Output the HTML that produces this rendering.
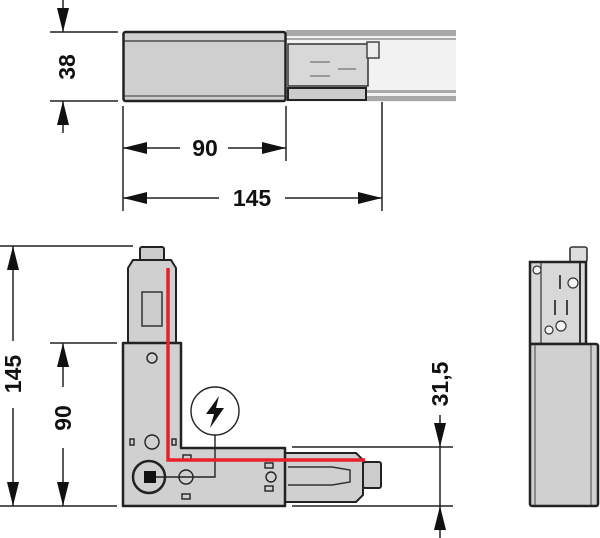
<!DOCTYPE html>
<html><head><style>html,body{margin:0;padding:0;background:#fff;width:600px;height:538px;overflow:hidden}</style></head>
<body>
<svg width="600" height="538" viewBox="0 0 600 538" xmlns="http://www.w3.org/2000/svg" font-family="Liberation Sans, sans-serif" font-weight="bold" font-size="23">
<defs>
<marker id="a" viewBox="0 0 24 12" refX="24" refY="6" markerWidth="24" markerHeight="12" markerUnits="userSpaceOnUse" orient="auto"><path d="M0,0 L24,6 L0,12 z" fill="#111"/></marker>
</defs>
<g stroke="#222" stroke-width="1.5" fill="none">
<line x1="50" y1="32" x2="118" y2="32"/><line x1="50" y1="101" x2="118" y2="101"/>
<line x1="123" y1="106" x2="123" y2="211"/><line x1="286" y1="106" x2="286" y2="161"/><line x1="382" y1="45" x2="382" y2="211"/>
<line x1="63" y1="0" x2="63" y2="32" marker-end="url(#a)"/><line x1="63" y1="133" x2="63" y2="101" marker-end="url(#a)"/>
<line x1="180" y1="148" x2="123" y2="148" marker-end="url(#a)"/><line x1="228" y1="148" x2="286" y2="148" marker-end="url(#a)"/>
<line x1="219" y1="198" x2="123" y2="198" marker-end="url(#a)"/><line x1="285" y1="198" x2="382" y2="198" marker-end="url(#a)"/>
<line x1="0" y1="246" x2="133" y2="246"/><line x1="0" y1="506" x2="117" y2="506"/><line x1="50" y1="343" x2="117" y2="343"/>
<line x1="13" y1="341" x2="13" y2="246" marker-end="url(#a)"/><line x1="13" y1="408" x2="13" y2="506" marker-end="url(#a)"/>
<line x1="63" y1="387" x2="63" y2="343" marker-end="url(#a)"/><line x1="63" y1="448" x2="63" y2="506" marker-end="url(#a)"/>
<line x1="292" y1="447" x2="453" y2="447"/><line x1="292" y1="506" x2="453" y2="506"/>
<line x1="440" y1="415" x2="440" y2="447" marker-end="url(#a)"/><line x1="440" y1="538" x2="440" y2="506" marker-end="url(#a)"/>
<line x1="440" y1="447" x2="440" y2="506"/>
</g>
<g fill="#111">
<text transform="translate(75,67) rotate(-90)" text-anchor="middle">38</text>
<text x="205" y="156" text-anchor="middle">90</text>
<text x="252" y="206" text-anchor="middle">145</text>
<text transform="translate(21,374) rotate(-90)" text-anchor="middle">145</text>
<text transform="translate(71,418) rotate(-90)" text-anchor="middle">90</text>
<text transform="translate(448,384) rotate(-90)" text-anchor="middle">31,5</text>
</g>
<rect x="286" y="30" width="170" height="72" fill="#f2f2f2"/>
<rect x="286" y="30" width="170" height="6" fill="#a8a8a8"/>
<rect x="286" y="38" width="170" height="2" fill="#aaa"/>
<rect x="286" y="90" width="170" height="3" fill="#aaa"/><rect x="286" y="96" width="170" height="5" fill="#a8a8a8"/>
<rect x="288" y="44" width="80" height="42" fill="#d8d8d8" stroke="#333" stroke-width="1.5"/>
<rect x="288" y="88" width="78" height="12" fill="#ccc" stroke="#222" stroke-width="2"/>
<rect x="367" y="42" width="12" height="16" fill="#eee" stroke="#444" stroke-width="1.5"/>
<g stroke="#999" stroke-width="2"><line x1="310" y1="62" x2="330" y2="62"/><line x1="310" y1="76" x2="330" y2="76"/><line x1="338" y1="69" x2="356" y2="69"/></g>
<rect x="123.5" y="32" width="162" height="69" rx="2" fill="#cfcfcf" stroke="#222" stroke-width="2.5"/>
<line x1="124" y1="41" x2="285" y2="41" stroke="#333" stroke-width="1.3"/>
<line x1="124" y1="96" x2="285" y2="96" stroke="#333" stroke-width="1"/>
<rect x="140" y="247" width="24" height="14" rx="2" fill="#ccc" stroke="#222" stroke-width="2"/>
<path d="M128,268 L133,260 L171,260 L176,268 L176,343 L128,343 Z" fill="#d0d0d0" stroke="#222" stroke-width="2"/>
<rect x="142" y="292" width="20" height="34" fill="#ccc" stroke="#333" stroke-width="1.5"/>
<rect x="363" y="462" width="18" height="26" rx="2" fill="#ccc" stroke="#222" stroke-width="2"/>
<path d="M285,453 L356,453 L363,460 L363,495 L356,502 L285,502 Z" fill="#d0d0d0" stroke="#222" stroke-width="2"/>
<path d="M288,467 L332,467 L350,470 L350,482 L332,485 L288,485" fill="none" stroke="#333" stroke-width="1.5"/>
<path d="M123,343 L181,343 L181,448 L285,448 L285,506 L123,506 Z" fill="#d0d0d0" stroke="#222" stroke-width="2.5" stroke-linejoin="round"/>
<g fill="none" stroke="#222" stroke-width="1.4">
<circle cx="152" cy="358" r="5"/><circle cx="152" cy="442" r="7"/><circle cx="186" cy="477" r="7"/><circle cx="271" cy="477" r="5"/>
<rect x="130" y="439" width="4" height="6"/><rect x="172" y="439" width="4" height="6"/>
<rect x="183" y="455" width="8" height="5"/><rect x="182" y="494" width="8" height="5"/><rect x="265" y="463" width="8" height="5"/><rect x="265" y="486" width="8" height="5"/>
<path d="M156,477 L215,477 L215,435"/>
<circle cx="215" cy="411" r="24" fill="#fff"/>
</g>
<circle cx="149" cy="477" r="16" fill="none" stroke="#222" stroke-width="2.5"/>
<rect x="144" y="471" width="12" height="12" fill="#111"/>
<path d="M219,396 L206,414 L214,414 L210,428 L224,408 L216,408 Z" fill="#111"/>
<path d="M168,268 L168,460 L365,460" fill="none" stroke="#e8202a" stroke-width="3.5"/>
<rect x="570" y="247" width="17" height="15" rx="2" fill="#ddd" stroke="#333" stroke-width="1.6"/>
<rect x="530" y="262" width="56" height="82" fill="#d8d8d8" stroke="#222" stroke-width="2.5"/>
<line x1="541" y1="263" x2="541" y2="343" stroke="#333" stroke-width="1.2"/>
<line x1="580" y1="263" x2="580" y2="343" stroke="#333" stroke-width="2"/>
<g fill="#f4f4f4" stroke="#333" stroke-width="1.2"><circle cx="537" cy="270" r="4"/><circle cx="573" cy="283" r="5"/><circle cx="561" cy="326" r="5"/><circle cx="549" cy="330" r="4"/></g>
<g stroke="#333" stroke-width="1.8"><line x1="560" y1="275" x2="560" y2="289"/><line x1="555" y1="300" x2="555" y2="315"/><line x1="567" y1="300" x2="567" y2="315"/></g>
<rect x="530" y="344" width="68" height="162" rx="2" fill="#d0d0d0" stroke="#222" stroke-width="2.5"/>
<line x1="535" y1="345" x2="535" y2="505" stroke="#444" stroke-width="1"/>
<line x1="591" y1="345" x2="591" y2="505" stroke="#444" stroke-width="1"/>
</svg>
</body></html>
